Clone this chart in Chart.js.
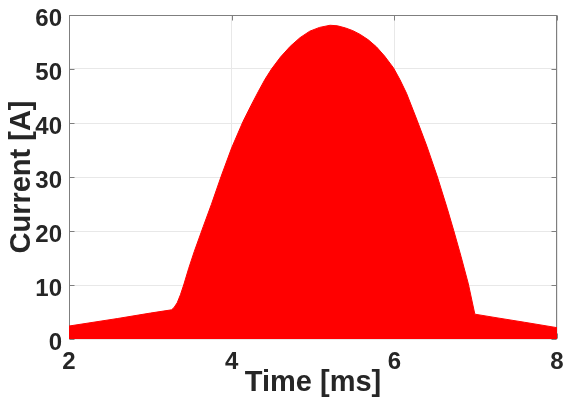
<!DOCTYPE html>
<html>
<head>
<meta charset="utf-8">
<title>Current pulse</title>
<script src="https://cdn.jsdelivr.net/npm/chart.js@4/dist/chart.umd.min.js"></script>
<style>
  html, body { margin: 0; padding: 0; background: #ffffff; }
  canvas { display: block; }
</style>
</head>
<body>
<canvas id="chart" width="564" height="401"></canvas>
<script>
// Current envelope of the pulse, time in milliseconds
const timeMs = [2.00, 2.60, 3.00, 3.26, 3.29, 3.33, 3.37, 3.41, 3.47, 3.54, 3.65, 3.75, 3.87, 4.00, 4.14, 4.24, 4.33, 4.41, 4.49, 4.60, 4.72, 4.84, 4.96, 5.08, 5.21, 5.30, 5.40, 5.49, 5.58, 5.68, 5.78, 5.88, 5.99, 6.07, 6.15, 6.28, 6.40, 6.53, 6.65, 6.73, 6.82, 6.91, 6.99, 7.25, 7.60, 8.00];
const currentA = [2.4, 3.8, 4.8, 5.4, 5.8, 6.7, 8.2, 10.0, 13.0, 16.2, 20.8, 24.9, 30.1, 35.4, 40.3, 43.3, 45.9, 48.1, 50.0, 52.2, 54.2, 55.8, 57.0, 57.7, 58.1, 58.0, 57.6, 57.1, 56.4, 55.4, 54.1, 52.4, 50.2, 48.0, 45.5, 40.5, 35.7, 30.0, 24.2, 20.1, 15.3, 10.2, 4.6, 3.95, 3.1, 2.1];

// Axis ticks
const xTicks = [2, 4, 6, 8];
const yTicks = [0, 10, 20, 30, 40, 50, 60];

const FONT = "'Liberation Sans', Arial, Helvetica, sans-serif";
const TEXT = '#262626';

// Axes box with short inward tick marks, drawn underneath the data
const axesBox = {
  id: 'axesBox',
  beforeDatasetsDraw(chart) {
    const { ctx, chartArea: a, scales } = chart;
    const L = Math.round(a.left) + 0.5, R = Math.round(a.right) - 0.5;
    const T = Math.round(a.top) + 0.5, B = Math.round(a.bottom) - 0.5;
    ctx.save();
    ctx.strokeStyle = '#7f7f7f';
    ctx.lineWidth = 1;
    ctx.strokeRect(L, T, R - L, B - T);
    const len = 5;
    ctx.beginPath();
    xTicks.forEach(v => {
      const px = Math.round(scales.x.getPixelForValue(v)) + 0.5;
      ctx.moveTo(px, B); ctx.lineTo(px, B - len);
      ctx.moveTo(px, T); ctx.lineTo(px, T + len);
    });
    yTicks.forEach(v => {
      const py = Math.round(scales.y.getPixelForValue(v)) + 0.5;
      ctx.moveTo(L, py); ctx.lineTo(L + len, py);
      ctx.moveTo(R, py); ctx.lineTo(R - len, py);
    });
    ctx.stroke();
    ctx.restore();
  }
};

new Chart(document.getElementById('chart'), {
  type: 'line',
  data: {
    datasets: [{
      data: timeMs.map((t, i) => ({ x: t, y: currentA[i] })),
      borderColor: '#ff0000',
      borderWidth: 1,
      backgroundColor: '#ff0000',
      fill: 'origin',
      pointRadius: 0,
      tension: 0
    }]
  },
  options: {
    responsive: false,
    animation: false,
    devicePixelRatio: 1,
    layout: { padding: { left: 0, right: 7, top: 15, bottom: 0 } },
    plugins: { legend: { display: false }, tooltip: { enabled: false } },
    scales: {
      x: {
        type: 'linear',
        min: 2, max: 8,
        afterBuildTicks(s) { s.ticks = xTicks.map(v => ({ value: v })); },
        afterFit(s) { s.height = 62; s.paddingLeft = 0; s.paddingRight = 0; },
        grid: { color: '#e8e8e8', drawTicks: false },
        border: { display: false },
        ticks: { color: TEXT, padding: 9, font: { family: FONT, size: 24, weight: 'bold' } },
        title: {
          display: true, text: 'Time [ms]', color: TEXT,
          font: { family: FONT, size: 29, weight: 'bold', lineHeight: 1.2 },
          padding: { top: 0, bottom: 1 }
        }
      },
      y: {
        type: 'linear',
        min: 0, max: 60,
        afterBuildTicks(s) { s.ticks = yTicks.map(v => ({ value: v })); },
        afterFit(s) { s.width = 69; s.paddingTop = 0; s.paddingBottom = 0; },
        grid: { color: '#e8e8e8', drawTicks: false },
        border: { display: false },
        ticks: { color: TEXT, padding: 7, labelOffset: 4, font: { family: FONT, size: 24, weight: 'bold' } },
        title: {
          display: true, text: 'Current [A]', color: TEXT,
          font: { family: FONT, size: 29, weight: 'bold', lineHeight: 1.2 },
          padding: { top: 5, bottom: 0 }
        }
      }
    }
  },
  plugins: [axesBox]
});
</script>
</body>
</html>
